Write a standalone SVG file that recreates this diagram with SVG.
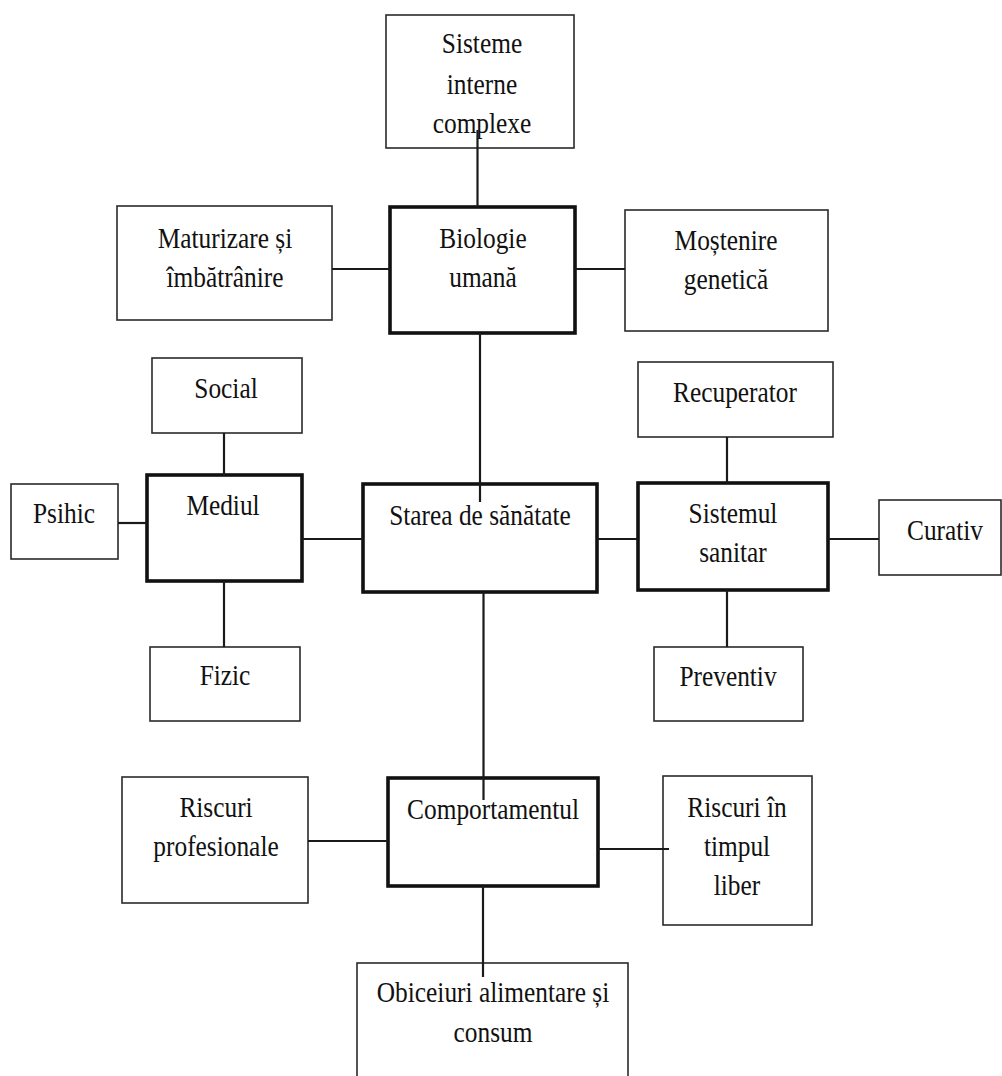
<svg xmlns="http://www.w3.org/2000/svg" width="1002" height="1076" viewBox="0 0 1002 1076">
<style>
.box{fill:#fff;stroke:#2a2a2a;stroke-width:1.6}
.main{fill:#fff;stroke:#111;stroke-width:3.6}
.con line{stroke:#1a1a1a;stroke-width:2.2}
text{font-family:"Liberation Serif","Times New Roman",serif;font-size:29px;fill:#111;text-anchor:middle}
</style>
<rect width="1002" height="1076" fill="#fff"/>
<g id="n-sisteme"><rect class="box" x="386" y="15" width="188" height="133"/>
<g transform="translate(482 0) scale(0.875 1)"><text x="0" y="53">Sisteme</text><text x="0" y="94">interne</text><text x="0" y="133">complexe</text></g></g>
<g id="n-maturizare"><rect class="box" x="117" y="206" width="215" height="114"/>
<g transform="translate(225 0) scale(0.875 1)"><text x="0" y="248">Maturizare și</text><text x="0" y="287">îmbătrânire</text></g></g>
<g id="n-biologie"><rect class="main" x="390" y="207" width="185" height="126"/>
<g transform="translate(483 0) scale(0.875 1)"><text x="0" y="248">Biologie</text><text x="0" y="287">umană</text></g></g>
<g id="n-mostenire"><rect class="box" x="625" y="210" width="203" height="121"/>
<g transform="translate(726 0) scale(0.875 1)"><text x="0" y="250">Moștenire</text><text x="0" y="289">genetică</text></g></g>
<g id="n-social"><rect class="box" x="152" y="358" width="150" height="75"/>
<g transform="translate(226 0) scale(0.875 1)"><text x="0" y="398">Social</text></g></g>
<g id="n-recuperator"><rect class="box" x="638" y="362" width="195" height="75"/>
<g transform="translate(735 0) scale(0.875 1)"><text x="0" y="402">Recuperator</text></g></g>
<g id="n-psihic"><rect class="box" x="11" y="484" width="107" height="75"/>
<g transform="translate(64 0) scale(0.875 1)"><text x="0" y="523">Psihic</text></g></g>
<g id="n-mediul"><rect class="main" x="147" y="475" width="155" height="106"/>
<g transform="translate(223 0) scale(0.875 1)"><text x="0" y="515">Mediul</text></g></g>
<g id="n-starea"><rect class="main" x="363" y="484" width="234" height="108"/>
<g transform="translate(480 0) scale(0.875 1)"><text x="0" y="525">Starea de sănătate</text></g></g>
<g id="n-sistemul"><rect class="main" x="638" y="483" width="190" height="107"/>
<g transform="translate(733 0) scale(0.875 1)"><text x="0" y="523">Sistemul</text><text x="0" y="562">sanitar</text></g></g>
<g id="n-curativ"><rect class="box" x="879" y="500" width="122" height="75"/>
<g transform="translate(945 0) scale(0.875 1)"><text x="0" y="540">Curativ</text></g></g>
<g id="n-fizic"><rect class="box" x="150" y="647" width="150" height="74"/>
<g transform="translate(225 0) scale(0.875 1)"><text x="0" y="685">Fizic</text></g></g>
<g id="n-preventiv"><rect class="box" x="654" y="647" width="149" height="74"/>
<g transform="translate(728 0) scale(0.875 1)"><text x="0" y="686">Preventiv</text></g></g>
<g id="n-riscprof"><rect class="box" x="122" y="777" width="186" height="126"/>
<g transform="translate(216 0) scale(0.875 1)"><text x="0" y="817">Riscuri</text><text x="0" y="856">profesionale</text></g></g>
<g id="n-comportamentul"><rect class="main" x="388" y="778" width="210" height="108"/>
<g transform="translate(493 0) scale(0.875 1)"><text x="0" y="819">Comportamentul</text></g></g>
<g id="n-risctimp"><rect class="box" x="663" y="776" width="149" height="149"/>
<g transform="translate(737 0) scale(0.875 1)"><text x="0" y="817">Riscuri în</text><text x="0" y="856">timpul</text><text x="0" y="895">liber</text></g></g>
<g id="n-obiceiuri"><rect class="box" x="357" y="963" width="271" height="130"/>
<g transform="translate(493 0) scale(0.875 1)"><text x="0" y="1002">Obiceiuri alimentare și</text><text x="0" y="1042">consum</text></g></g>
<g id="connectors" class="con">
<line x1="477.5" y1="130" x2="477.5" y2="207"/>
<line x1="332" y1="269" x2="390" y2="269"/>
<line x1="575" y1="269" x2="625" y2="269"/>
<line x1="480" y1="333" x2="480" y2="502"/>
<line x1="224" y1="433" x2="224" y2="476"/>
<line x1="118" y1="523" x2="147" y2="523"/>
<line x1="302" y1="539" x2="363" y2="539"/>
<line x1="224" y1="581" x2="224" y2="647"/>
<line x1="597" y1="539" x2="638" y2="539"/>
<line x1="727" y1="437" x2="727" y2="483"/>
<line x1="828" y1="539" x2="879" y2="539"/>
<line x1="727" y1="590" x2="727" y2="647"/>
<line x1="483.5" y1="592" x2="483.5" y2="800"/>
<line x1="308" y1="841" x2="388" y2="841"/>
<line x1="598" y1="849" x2="669" y2="849"/>
<line x1="483" y1="886" x2="483" y2="977"/>
</g>
</svg>
